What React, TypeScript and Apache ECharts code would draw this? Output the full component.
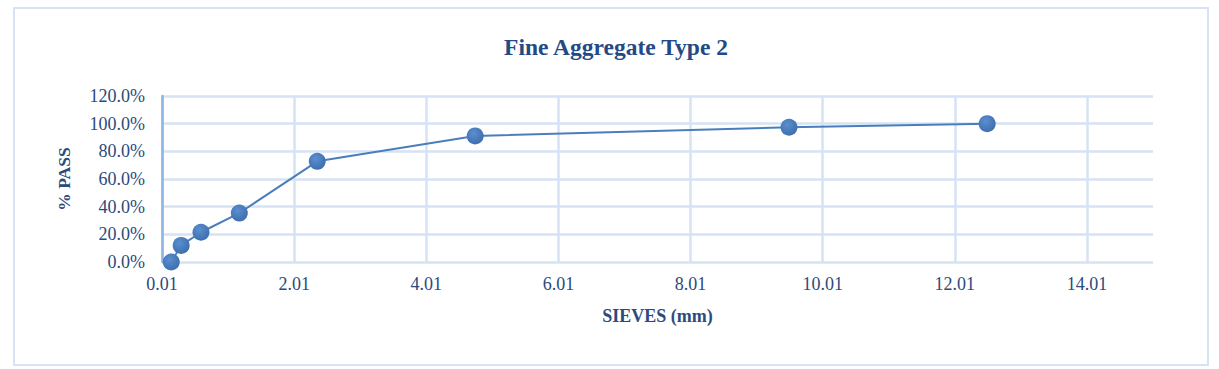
import React, { useEffect, useRef } from "react";
import * as echarts from "echarts";

const titleText = "Fine Aggregate Type 2";
const xAxisTitle = "SIEVES (mm)";
const yAxisTitle = "% PASS";
const sieveSizes = [0.15, 0.3, 0.6, 1.18, 2.36, 4.75, 9.5, 12.5];
const passFractions = [0, 0.12, 0.215, 0.354, 0.728, 0.911, 0.974, 1.0];
const xTickValues = [0.01, 2.01, 4.01, 6.01, 8.01, 10.01, 12.01, 14.01];
const xMin = 0.01;
const xMax = 15.01;
const yMin = 0;
const yMax = 1.2;
const yStep = 0.2;

const FONT = "'Liberation Serif', 'DejaVu Serif', serif";
const TEXT = "#2c4a7c";
const GRID = "#d6e3f4";

export default function App() {
  const ref = useRef<HTMLDivElement>(null);
  useEffect(() => {
    if (!ref.current) return;
    const chart = echarts.init(ref.current, null, { renderer: "svg" });
    chart.setOption({
      animation: false,
      backgroundColor: "#ffffff",
      title: {
        text: titleText,
        left: 611,
        top: 30,
        textAlign: "center",
        textStyle: { fontFamily: FONT, fontSize: 23.5, fontWeight: "bold", color: "#244a86" },
      },
      graphic: [
        {
          type: "rect",
          shape: { x: 14, y: 8, width: 1194, height: 357 },
          style: { fill: "none", stroke: GRID, lineWidth: 2 },
          silent: true,
        },
      ],
      grid: { left: 162, right: 66, top: 96, bottom: 107 },
      xAxis: {
        type: "value",
        min: xMin,
        max: xMax,
        name: xAxisTitle,
        nameLocation: "middle",
        nameGap: 45,
        nameTextStyle: { fontFamily: FONT, fontSize: 18, fontWeight: "bold", color: TEXT },
        axisLine: { show: false },
        axisTick: { show: false, customValues: xTickValues },
        axisLabel: {
          customValues: xTickValues,
          formatter: (v: number) => v.toFixed(2),
          fontFamily: FONT,
          fontSize: 18,
          color: TEXT,
          margin: 13,
        },
        splitLine: { show: true, lineStyle: { color: GRID, width: 2.5 } },
      },
      yAxis: {
        type: "value",
        min: yMin,
        max: yMax,
        interval: yStep,
        name: yAxisTitle,
        nameLocation: "middle",
        nameGap: 89,
        nameTextStyle: { fontFamily: FONT, fontSize: 17.5, fontWeight: "bold", color: TEXT },
        axisLine: { show: true, lineStyle: { color: "#8db3e2", width: 2.5 } },
        axisTick: { show: false },
        axisLabel: {
          formatter: (v: number) => (v * 100).toFixed(1) + "%",
          fontFamily: FONT,
          fontSize: 18,
          color: TEXT,
          margin: 17,
        },
        splitLine: { show: true, lineStyle: { color: GRID, width: 2.5 } },
      },
      series: [
        {
          type: "line",
          data: sieveSizes.map((s, i) => [s, passFractions[i]]),
          symbol: "circle",
          symbolSize: 17,
          lineStyle: { color: "#4a7ebb", width: 2 },
          itemStyle: {
            color: new echarts.graphic.RadialGradient(0.4, 0.35, 0.7, [
              { offset: 0, color: "#5a8fd0" },
              { offset: 1, color: "#3c6cab" },
            ]),
            borderWidth: 0,
          },
          z: 3,
        },
      ],
    });
    return () => chart.dispose();
  }, []);
  return (
    <div
      ref={ref}
      style={{ position: "fixed", left: 0, top: 0, width: 1219, height: 369 }}
    />
  );
}
